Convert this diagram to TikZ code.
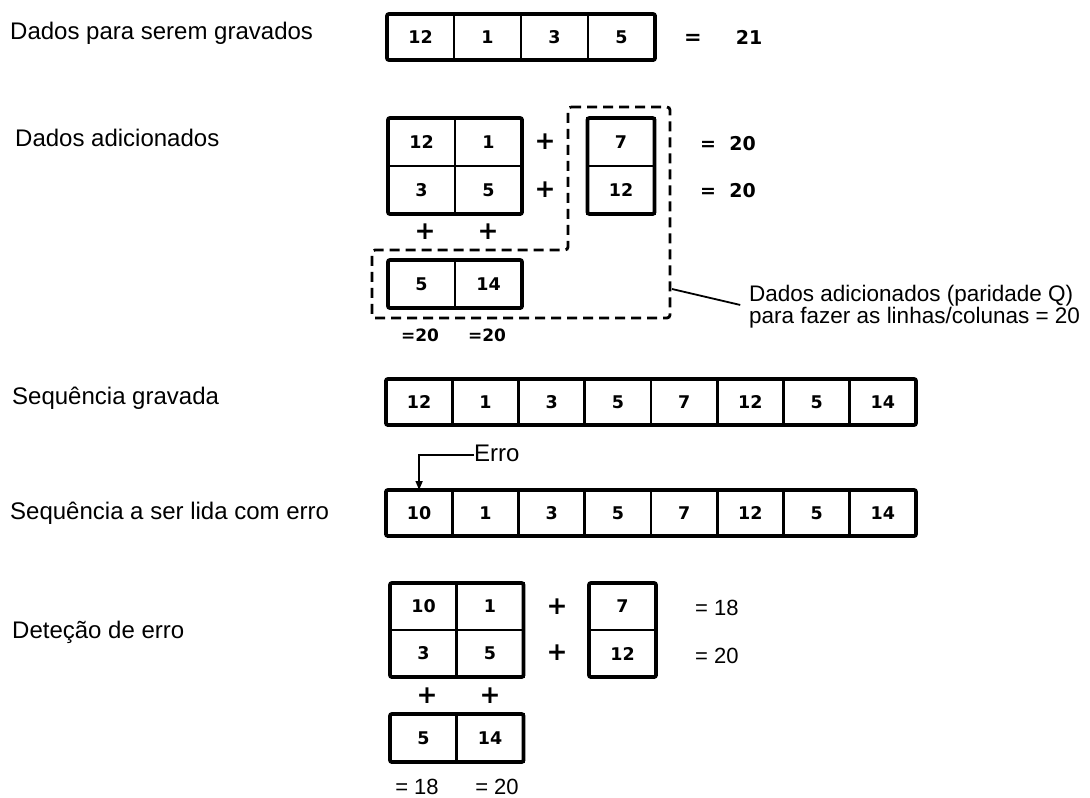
\documentclass[tikz,border=0pt]{standalone}
\usepackage{fontspec}
\setmainfont{Liberation Sans}
\newfontfamily\stencil{DejaVu Sans}
\usetikzlibrary{arrows.meta,positioning,calc}
\tikzset{
  cell/.style={draw, line width=2.8pt, minimum width=67pt, minimum height=47pt,
               inner sep=0pt, outer sep=0pt, font=\stencil\fontsize{17.5}{17.5}\selectfont\bfseries},
  rim/.style={draw, line width=3.8pt, rounded corners=2pt},
  lbl/.style={anchor=west, inner sep=0pt, text height=17pt, text depth=5pt,
              font=\fontsize{24}{24}\selectfont},
  bsum/.style={inner sep=0pt, text height=14pt, text depth=0pt,
               font=\stencil\fontsize{19}{19}\selectfont\bfseries},
  rsum/.style={inner sep=0pt, text height=16pt, text depth=0pt, font=\fontsize{22}{22}\selectfont},
  plus/.style={inner sep=0pt, font=\stencil\fontsize{25}{25}\selectfont\bfseries},
  qbox/.style={dash pattern=on 10pt off 6pt, line width=2.8pt, rounded corners=3pt},
  note/.style={anchor=west, align=left, inner sep=0pt, font=\fontsize{22.5}{20.5}\selectfont},
  errarr/.style={-{Triangle[length=9pt,width=7pt]}, line width=1.6pt},
}

\begin{document}
\begin{tikzpicture}[x=1pt, y=1pt]
    \useasboundingbox[fill=white] (0,0) rectangle (1090,-798);
    \node[lbl] (t1) at (10,-33) {Dados para serem gravados};
    \node[lbl] (t2) at (15,-140) {Dados adicionados};
    \node[lbl] (t3) at (12,-398) {Sequência gravada};
    \node[lbl] (t4) at (10,-513) {Sequência a ser lida com erro};
    \node[lbl] (t5) at (12,-632) {Deteção de erro};

    \foreach \v [count=\i] in {12,1,3,5}
      \node[cell, minimum height=46pt] (d\i) at ({420.5+67*(\i-1)},-37) {\v};
    \draw[rim] (d1.north west) rectangle (d4.south east);
    \node[bsum, font=\stencil\fontsize{21}{21}\selectfont\bfseries] (deq) at (693,-37) {=};
    \node[bsum] (dsum) at (749,-37) {21};

    \foreach \v/\c/\r in {12/1/1, 1/2/1, 3/1/2, 5/2/2}
      \node[cell, minimum height=48pt] (a\r\c) at ({421.5+67*(\c-1)},{-142-48*(\r-1)}) {\v};
    \draw[rim] (a11.north west) rectangle (a22.south east);
    \node[cell, minimum height=48pt] (p1) at (621,-142) {7};
    \node[cell, minimum height=48pt] (p2) at (621,-190) {12};
    \draw[rim] (p1.north west) rectangle (p2.south east);
    \node[cell, minimum height=48pt] (q1) at (421.5,-284) {5};
    \node[cell, minimum height=48pt] (q2) at (488.5,-284) {14};
    \draw[rim] (q1.north west) rectangle (q2.south east);
    \node[plus] (ap1) at (545,-142) {+};
    \node[plus] (ap2) at (545,-190) {+};
    \node[plus] (ap3) at (425,-232) {+};
    \node[plus] (ap4) at (488,-232) {+};
    \node[bsum, anchor=west] (as1) at (700,-143) {=\ \ 20};
    \node[bsum, anchor=west] (as2) at (700,-190) {=\ \ 20};
    \node[bsum, font=\stencil\fontsize{17}{17}\selectfont\bfseries] (as3) at (420,-334) {=20};
    \node[bsum, font=\stencil\fontsize{17}{17}\selectfont\bfseries] (as4) at (487,-334) {=20};

    \draw[qbox] (568,-107) -- (670,-107) -- (670,-318) -- (372,-318)
      -- (372,-250) -- (568,-250) -- cycle;
    \coordinate (hook) at (672,-289);
    \node[note] (ann) at (749,-307) {Dados adicionados (paridade Q)\\para fazer as linhas/colunas = 20};
    \draw[line width=1.8pt, shorten >=9pt] (hook) -- (ann.west);

    \foreach \v [count=\i] in {12,1,3,5,7,12,5,14}
      \node[cell, minimum width=66.25pt, minimum height=46pt] (g\i) at ({419.1+66.25*(\i-1)},-402) {\v};
    \draw[rim] (g1.north west) rectangle (g8.south east);

    \node[lbl] (erro) at (474,-455) {Erro};
    \foreach \v [count=\i] in {10,1,3,5,7,12,5,14}
      \node[cell, minimum width=66.25pt, minimum height=46pt] (e\i) at ({419.1+66.25*(\i-1)},-513) {\v};
    \draw[rim] (e1.north west) rectangle (e8.south east);
    \draw[errarr] (erro.west) -| (e1.north);

    \foreach \v/\c/\r in {10/1/1, 1/2/1, 3/1/2, 5/2/2}
      \node[cell] (b\r\c) at ({423.5+66.5*(\c-1)},{-606.5-47*(\r-1)}) {\v};
    \draw[rim] (b11.north west) rectangle (b22.south east);
    \node[cell] (r1) at (622.5,-606.5) {7};
    \node[cell] (r2) at (622.5,-653.5) {12};
    \draw[rim] (r1.north west) rectangle (r2.south east);
    \node[cell, minimum height=48pt] (c1) at (423.5,-738) {5};
    \node[cell, minimum height=48pt] (c2) at (490,-738) {14};
    \draw[rim] (c1.north west) rectangle (c2.south east);
    \node[plus] (bp1) at (557,-607) {+};
    \node[plus] (bp2) at (557,-653) {+};
    \node[plus] (bp3) at (427,-696) {+};
    \node[plus] (bp4) at (490,-696) {+};
    \node[rsum, anchor=west] (bs1) at (695,-607) {= 18};
    \node[rsum, anchor=west] (bs2) at (695,-655) {= 20};
    \node[rsum] (bs3) at (417,-786) {= 18};
    \node[rsum] (bs4) at (497,-786) {= 20};
  \end{tikzpicture}
\end{document}
